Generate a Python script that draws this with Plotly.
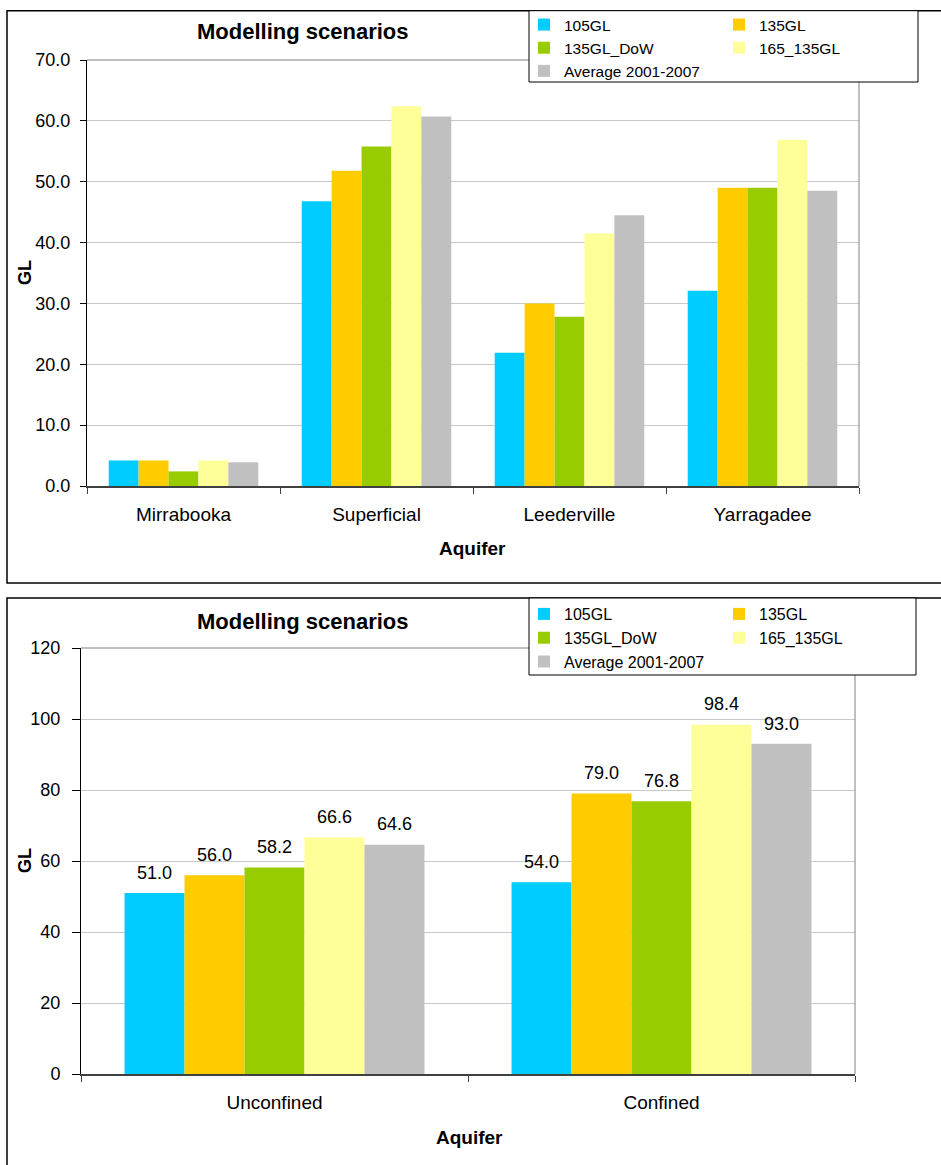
import plotly.graph_objects as go

# Scenario names and bar colours
scenarios = ["105GL", "135GL", "135GL_DoW", "165_135GL", "Average 2001-2007"]
colors = ["#00CCFF", "#FFCC00", "#99CC00", "#FFFF99", "#C0C0C0"]

# Upper chart: abstraction by aquifer (GL)
aquifers = ["Mirrabooka", "Superficial", "Leederville", "Yarragadee"]
aq_105 = [4.2, 46.8, 21.9, 32.1]
aq_135 = [4.2, 51.8, 30.0, 49.0]
aq_dow = [2.4, 55.8, 27.8, 49.0]
aq_165 = [4.2, 62.4, 41.5, 56.9]
aq_avg = [3.9, 60.7, 44.5, 48.5]

# Lower chart: abstraction by aquifer type (GL)
groups = ["Unconfined", "Confined"]
gr_105 = [51.0, 54.0]
gr_135 = [56.0, 79.0]
gr_dow = [58.2, 76.8]
gr_165 = [66.6, 98.4]
gr_avg = [64.6, 93.0]

top_tick_vals = [0, 10, 20, 30, 40, 50, 60, 70]
bottom_tick_vals = [0, 20, 40, 60, 80, 100, 120]

FONT = "Liberation Sans, Arial, sans-serif"
W, H = 941, 1165
GAP = 0.225

def px_x(p):
    return p / W

def px_y(p):
    return 1 - p / H

fig = go.Figure()

top_series = [aq_105, aq_135, aq_dow, aq_165, aq_avg]
bottom_series = [gr_105, gr_135, gr_dow, gr_165, gr_avg]
# two-column legends: first column holds items 0, 2, 4; second holds 1, 3
top_legend = ["legend", "legend2", "legend", "legend2", "legend"]
bottom_legend = ["legend3", "legend4", "legend3", "legend4", "legend3"]
rank = [1, 1, 2, 2, 3]

for i, (name, col) in enumerate(zip(scenarios, colors)):
    fig.add_trace(go.Bar(
        x=aquifers, y=top_series[i], name=name, marker_color=col,
        marker_line_width=0, xaxis="x", yaxis="y",
        legend=top_legend[i], legendrank=rank[i],
    ))

for i, (name, col) in enumerate(zip(scenarios, colors)):
    fig.add_trace(go.Bar(
        x=groups, y=bottom_series[i], name=name, marker_color=col,
        marker_line_width=0, xaxis="x2", yaxis="y2",
        legend=bottom_legend[i], legendrank=rank[i],
    ))

# value labels above the lower chart's bars (grouped like the bars)
for i, name in enumerate(scenarios):
    fig.add_trace(go.Scatter(
        x=groups, y=bottom_series[i], name=name, xaxis="x2", yaxis="y2",
        mode="markers+text", showlegend=False, hoverinfo="skip",
        marker=dict(size=14, color="rgba(0,0,0,0)"),
        text=[f"{v:.1f}" for v in bottom_series[i]],
        textposition="top center", cliponaxis=False,
        textfont=dict(family=FONT, size=18, color="#000000"),
    ))

axis_common = dict(
    showgrid=False, showline=True, ticks="outside",
    tickfont=dict(family=FONT, size=19, color="#000000"),
)

fig.update_layout(
    width=W, height=H,
    margin=dict(l=0, r=0, t=0, b=0),
    paper_bgcolor="white", plot_bgcolor="white",
    barmode="group", bargap=GAP, bargroupgap=0,
    scattermode="group", scattergap=GAP,
    font=dict(family=FONT, color="#000000"),
    xaxis=dict(
        domain=[px_x(87), px_x(859)], anchor="y",
        linecolor="#404040", linewidth=2, tickson="boundaries",
        ticklen=6, tickcolor="#404040", ticklabelstandoff=10,
        automargin=False, **axis_common,
    ),
    yaxis=dict(
        domain=[px_y(486), px_y(60)], anchor="x",
        range=[0, 70], tickvals=top_tick_vals, tickformat=".1f",
        showgrid=True, gridcolor="#c8c8c8", gridwidth=1,
        showline=True, linecolor="#000000", linewidth=1,
        ticks="outside", ticklen=6, tickcolor="#000000",
        ticklabelstandoff=6, zeroline=False, automargin=False,
        tickfont=dict(family=FONT, size=18, color="#000000"),
    ),
    xaxis2=dict(
        domain=[px_x(81), px_x(855)], anchor="y2",
        linecolor="#404040", linewidth=2, tickson="boundaries",
        ticklen=6, tickcolor="#404040", ticklabelstandoff=10,
        automargin=False, **axis_common,
    ),
    yaxis2=dict(
        domain=[px_y(1074), px_y(648)], anchor="x2",
        range=[0, 120], tickvals=bottom_tick_vals,
        showgrid=True, gridcolor="#c8c8c8", gridwidth=1,
        showline=True, linecolor="#000000", linewidth=1,
        ticks="outside", ticklen=8, tickcolor="#000000",
        ticklabelstandoff=8, zeroline=False, automargin=False,
        tickfont=dict(family=FONT, size=18, color="#000000"),
    ),
)

legend_style = dict(
    orientation="v", xanchor="left", yanchor="top",
    bgcolor="rgba(0,0,0,0)", borderwidth=0, traceorder="normal",
    font=dict(family=FONT, size=16, color="#000000"),
    itemclick=False, itemdoubleclick=False,
)
fig.update_layout(
    legend=dict(x=px_x(524), y=px_y(8), font_size=15.5,
                **{k: v for k, v in legend_style.items() if k != "font"},
                font_family=FONT, font_color="#000000"),
    legend2=dict(x=px_x(719), y=px_y(8), font_size=15.5,
                 **{k: v for k, v in legend_style.items() if k != "font"},
                 font_family=FONT, font_color="#000000"),
    legend3=dict(x=px_x(524), y=px_y(597), **legend_style),
    legend4=dict(x=px_x(719), y=px_y(597), **legend_style),
)

shapes = []
# outer frames around each chart
shapes.append(dict(type="rect", xref="paper", yref="paper",
                   x0=px_x(7), x1=1.01, y0=px_y(583), y1=px_y(10.7),
                   line=dict(color="#000000", width=1.5),
                   fillcolor="rgba(0,0,0,0)", layer="above"))
shapes.append(dict(type="rect", xref="paper", yref="paper",
                   x0=px_x(7), x1=1.01, y0=-0.02, y1=px_y(598),
                   line=dict(color="#000000", width=1.5),
                   fillcolor="rgba(0,0,0,0)", layer="above"))
# grey top/right border of the plot areas
for xr, yr in (("x", "y"), ("x2", "y2")):
    shapes.append(dict(type="line", xref=f"{xr} domain", yref=f"{yr} domain",
                       x0=0, x1=1, y0=1, y1=1,
                       line=dict(color="#808080", width=1), layer="above"))
    shapes.append(dict(type="line", xref=f"{xr} domain", yref=f"{yr} domain",
                       x0=1, x1=1, y0=0, y1=1,
                       line=dict(color="#808080", width=1), layer="above"))
# legend boxes
shapes.append(dict(type="rect", xref="paper", yref="paper",
                   x0=px_x(529), x1=px_x(918), y0=px_y(82), y1=px_y(10.7),
                   line=dict(color="#000000", width=1),
                   fillcolor="white", layer="above"))
shapes.append(dict(type="rect", xref="paper", yref="paper",
                   x0=px_x(529), x1=px_x(916), y0=px_y(675), y1=px_y(598),
                   line=dict(color="#000000", width=1),
                   fillcolor="white", layer="above"))
fig.update_layout(shapes=shapes)

title_font = dict(family=FONT, size=22, color="#000000")
label_font = dict(family=FONT, size=19, color="#000000")
ann = []
for ty in (31.5, 621):
    ann.append(dict(text="<b>Modelling scenarios</b>", xref="paper", yref="paper",
                    x=px_x(303), y=px_y(ty), xanchor="center", yanchor="middle",
                    showarrow=False, font=title_font))
for gy in (273, 861):
    ann.append(dict(text="<b>GL</b>", xref="paper", yref="paper",
                    x=px_x(25), y=px_y(gy), xanchor="center", yanchor="middle",
                    textangle=-90, showarrow=False,
                    font=dict(family=FONT, size=18, color="#000000")))
for ax_x, ax_y in ((472, 549), (469, 1137)):
    ann.append(dict(text="<b>Aquifer</b>", xref="paper", yref="paper",
                    x=px_x(ax_x), y=px_y(ax_y), xanchor="center", yanchor="middle",
                    showarrow=False, font=label_font))
fig.update_layout(annotations=ann)

fig.write_html(
    "out.html",
    post_script="document.body.style.margin='0px';",
)
